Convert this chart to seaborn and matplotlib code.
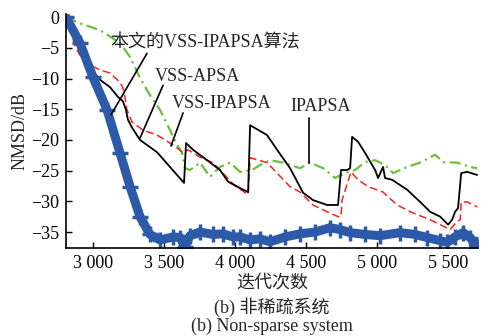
import matplotlib
matplotlib.use("Agg")
import matplotlib.pyplot as plt
import seaborn as sns
import pandas as pd

# VSS-IPAPSA (proposed, blue)
prop_x = [2810, 2908, 3000, 3099, 3190, 3261, 3331, 3401, 3472, 3563, 3613, 3648, 3683, 3753, 3845,
          3915, 3986, 4035, 4106, 4176, 4246, 4352, 4458, 4563, 4669, 4739, 4810, 4915, 5021, 5162,
          5268, 5352, 5444, 5493, 5549, 5606, 5655, 5704]
prop_y = [0, -4.2, -9.8, -15.1, -22.1, -27.6, -32.5, -35.4, -36.3, -35.8, -35.9, -37.4, -35.6, -35.0, -35.4,
          -35.3, -35.8, -35.8, -36.3, -36.1, -36.6, -35.8, -35.3, -35.0, -34.3, -34.6, -35.1, -35.4, -35.6, -35.1,
          -35.4, -35.9, -36.4, -36.7, -35.8, -35.1, -35.9, -37.4]

# VSS-APSA (black)
apsa_x = [2810, 2951, 3049, 3120, 3176, 3211, 3232, 3246, 3275, 3331,
          3451, 3542, 3641, 3655, 3704, 3803, 3894, 3951, 4014, 4092,
          4106, 4225, 4296, 4387, 4479, 4549, 4648, 4725, 4746, 4789,
          4810, 4824, 4866, 4915, 4986, 5007, 5042, 5056, 5106, 5211,
          5303, 5373, 5444, 5500, 5528, 5549, 5570, 5592, 5634, 5704]
apsa_y = [0, -7.3, -10.2, -11.4, -13.0, -13.7, -15.1, -16.7, -18.0, -20.0,
          -22.0, -24.4, -27.0, -20.5, -21.6, -23.3, -24.9, -26.8, -27.6, -28.5,
          -17.6, -19.2, -21.6, -24.6, -28.6, -29.8, -30.6, -30.6, -24.9, -24.9,
          -24.6, -19.5, -20.3, -22.1, -24.9, -26.2, -24.4, -26.2, -26.5, -28.1,
          -30.1, -31.7, -32.5, -33.8, -33.0, -31.7, -31.1, -25.4, -25.2, -25.7]

# VSS-IPAPSA (red, dashed)
vss_x = [2810, 2873, 2908, 2979, 3049, 3120, 3190, 3211, 3225, 3239,
         3275, 3352, 3451, 3542, 3592, 3634, 3669, 3753, 3845, 3915,
         3979, 4021, 4092, 4106, 4225, 4296, 4387, 4458, 4549, 4648,
         4725, 4746, 4753, 4817, 4866, 4937, 5042, 5141, 5253, 5373,
         5444, 5514, 5563, 5585, 5592, 5634, 5704]
vss_y = [0, -4.6, -6.2, -7.8, -8.6, -9.1, -10.6, -11.5, -13.0, -15.1,
         -17.1, -18.4, -19.2, -20.5, -21.3, -22.1, -21.6, -22.8, -23.7, -25.4,
         -27.0, -27.8, -28.9, -22.9, -23.7, -25.4, -27.6, -28.5, -30.6, -31.7,
         -32.5, -32.5, -29.8, -25.2, -26.5, -27.6, -28.5, -30.6, -31.9, -33.0,
         -33.8, -34.6, -33.3, -33.0, -30.1, -30.1, -30.9]

# IPAPSA (green, dash-dot)
ipa_x = [2810, 2908, 3049, 3190, 3261, 3331, 3401, 3472, 3542, 3592,
         3627, 3648, 3683, 3753, 3824, 3894, 3965, 4035, 4120, 4176,
         4246, 4338, 4458, 4528, 4620, 4704, 4775, 4845, 4915, 4986,
         5056, 5113, 5211, 5303, 5408, 5465, 5563, 5655, 5704]
ipa_y = [0, -1.0, -2.1, -4.2, -6.5, -9.9, -12.7, -15.1, -18.4, -20.8,
         -22.1, -24.6, -24.9, -23.7, -26.0, -24.4, -23.7, -25.2, -24.9, -24.1,
         -23.3, -23.7, -24.6, -23.7, -24.6, -26.2, -25.4, -24.9, -23.6, -23.3,
         -24.1, -25.4, -24.4, -23.7, -22.4, -23.6, -23.7, -24.4, -24.6]

x_ticks = [3000, 3500, 4000, 4500, 5000, 5500]
x_labels = ["3 000", "3 500", "4 000", "4 500", "5 000", "5 500"]
y_ticks = [0, -5, -10, -15, -20, -25, -30, -35]

sns.set_style("ticks")
plt.rcParams["font.family"] = ["Liberation Serif", "Noto Sans CJK SC"]
plt.rcParams["axes.unicode_minus"] = True

fig = plt.figure(figsize=(4.9, 3.36), dpi=100)
ax = fig.add_axes([0.1347, 0.262, 0.841, 0.696])

df_prop = pd.DataFrame({"x": prop_x, "y": prop_y})
df_apsa = pd.DataFrame({"x": apsa_x, "y": apsa_y})
df_vss = pd.DataFrame({"x": vss_x, "y": vss_y})
df_ipa = pd.DataFrame({"x": ipa_x, "y": ipa_y})

blue = "#2c5aa8"
sns.lineplot(data=df_ipa, x="x", y="y", ax=ax, sort=False, estimator=None,
             color="#6cbf3a", lw=1.6, linestyle=(0, (5, 2, 1, 2)))
sns.lineplot(data=df_vss, x="x", y="y", ax=ax, sort=False, estimator=None,
             color="#ff2020", lw=1.1, linestyle=(0, (5, 2.5)))
sns.lineplot(data=df_apsa, x="x", y="y", ax=ax, sort=False, estimator=None,
             color="black", lw=1.3)
sns.lineplot(data=df_prop, x="x", y="y", ax=ax, sort=False, estimator=None,
             color=blue, lw=6.5, marker="+", markersize=11, markeredgewidth=2.5,
             markeredgecolor=blue, markerfacecolor=blue)

ax.set_xlim(2810, 5711)
ax.set_ylim(-37.6, 0.5)
ax.set_xticks(x_ticks)
ax.set_xticklabels(x_labels)
ax.set_yticks(y_ticks)
ax.tick_params(direction="in", labelsize=13, length=4, width=1, pad=5, colors="black")
for side in ["left", "bottom"]:
    ax.spines[side].set_linewidth(1.2)
    ax.spines[side].set_color("black")
sns.despine(ax=ax)

ax.set_xlabel("迭代次数", fontsize=13, labelpad=2)
ax.set_ylabel("NMSD/dB", fontsize=13, labelpad=2)

# annotations
ax.text(3120, -4.1, "本文的VSS-IPAPSA算法", fontsize=13, ha="left", va="center")
ax.plot([3380, 3127], [-5.9, -15.9], color="black", lw=1.2)
ax.text(3437, -9.6, "VSS-APSA", fontsize=13, ha="left", va="center")
ax.plot([3493, 3331], [-11.1, -19.7], color="black", lw=1.2)
ax.text(3556, -14.0, "VSS-IPAPSA", fontsize=13, ha="left", va="center")
ax.plot([3634, 3549], [-15.6, -21.0], color="black", lw=1.2)
ax.text(4387, -14.5, "IPAPSA", fontsize=13, ha="left", va="center")
ax.plot([4521, 4521], [-16.4, -23.7], color="black", lw=1.2)

fig.text(0.555, 0.086, "(b) 非稀疏系统", fontsize=13, ha="center", va="center")
fig.text(0.555, 0.030, "(b) Non-sparse system", fontsize=13, ha="center", va="center")

fig.savefig("out.png", dpi=100)
